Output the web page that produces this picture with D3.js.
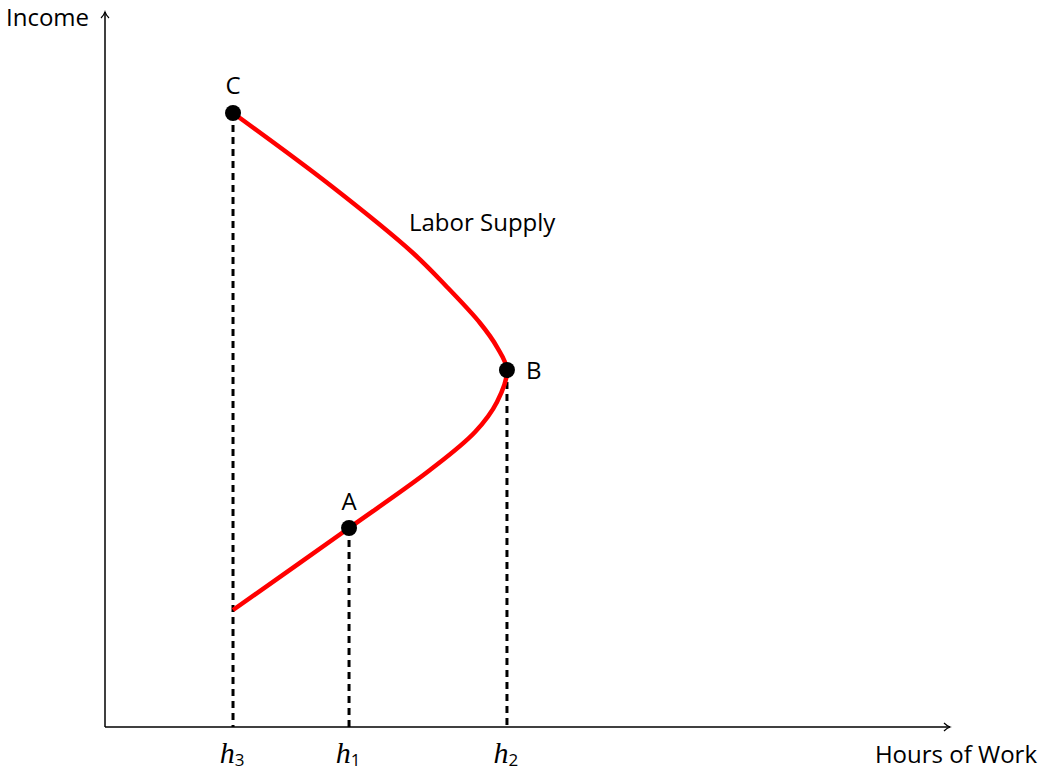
<!DOCTYPE html>
<html>
<head>
<meta charset="utf-8">
<script src="https://cdn.jsdelivr.net/npm/d3@7"></script>
<style>
  body { margin: 0; background: #fff; }
  text { font-family: "Open Sans", "DejaVu Sans", sans-serif; }
</style>
</head>
<body>
<svg id="chart"></svg>
<script>
// supply curve, from the low end up to C (hours, income)
const curveHours  = [1.515, 2.888, 3.846, 4.379, 4.639, 4.757, 4.639, 4.438, 4.047, 3.645, 2.663, 1.515];
const curveIncome = [1.391, 2.366, 3.055, 3.507, 3.864, 4.244, 4.517, 4.803, 5.231, 5.635, 6.443, 7.299];

const pointNames  = ["A", "B", "C"];
const pointHours  = [2.888, 4.757, 1.515];
const pointIncome = [2.366, 4.244, 7.299];

const tickNames = ["3", "1", "2"];
const tickHours = [1.515, 2.888, 4.757];

const W = 1041, H = 772;
const svg = d3.select("#chart").attr("width", W).attr("height", H);

const x = d3.scaleLinear().domain([0, 10]).range([105, 950]);
const y = d3.scaleLinear().domain([0, 8.5]).range([727, 12]);

// axes
svg.append("line")
  .attr("x1", x(0)).attr("x2", x(10))
  .attr("y1", y(0)).attr("y2", y(0))
  .attr("stroke", "#000").attr("stroke-width", 1.5);
svg.append("line")
  .attr("x1", x(0)).attr("x2", x(0))
  .attr("y1", y(0)).attr("y2", y(8.5))
  .attr("stroke", "#000").attr("stroke-width", 1.5);

// arrow heads
svg.append("path")
  .attr("d", `M${x(10) - 6},${y(0) - 4} Q${x(10) - 3},${y(0) - 1} ${x(10)},${y(0)} Q${x(10) - 3},${y(0) + 1} ${x(10) - 6},${y(0) + 4}`)
  .attr("fill", "none").attr("stroke", "#000").attr("stroke-width", 1.2);
svg.append("path")
  .attr("d", `M${x(0) - 4},${y(8.5) + 6} Q${x(0) - 1},${y(8.5) + 3} ${x(0)},${y(8.5)} Q${x(0) + 1},${y(8.5) + 3} ${x(0) + 4},${y(8.5) + 6}`)
  .attr("fill", "none").attr("stroke", "#000").attr("stroke-width", 1.2);

svg.append("text")
  .attr("x", 6).attr("y", 26)
  .attr("font-size", 24)
  .text("Income");
svg.append("text")
  .attr("x", 1037).attr("y", 763)
  .attr("text-anchor", "end")
  .attr("font-size", 24)
  .text("Hours of Work");

// dashed drop lines
svg.selectAll(".drop")
  .data(pointNames)
  .enter()
  .append("line")
  .attr("x1", (d, i) => x(pointHours[i]))
  .attr("x2", (d, i) => x(pointHours[i]))
  .attr("y1", (d, i) => y(pointIncome[i]))
  .attr("y2", y(0))
  .attr("stroke", "#000")
  .attr("stroke-width", 3)
  .attr("stroke-dasharray", "7,5");

// labor supply curve
const line = d3.line()
  .x((d, i) => x(curveHours[i]))
  .y((d, i) => y(curveIncome[i]))
  .curve(d3.curveCatmullRom.alpha(0.5));

svg.append("path")
  .datum(curveHours)
  .attr("d", line)
  .attr("fill", "none")
  .attr("stroke", "#ff0000")
  .attr("stroke-width", 4.5);

svg.append("text")
  .attr("x", 409).attr("y", 231)
  .attr("font-size", 24)
  .text("Labor Supply");

// points
svg.selectAll(".pt")
  .data(pointNames)
  .enter()
  .append("circle")
  .attr("cx", (d, i) => x(pointHours[i]))
  .attr("cy", (d, i) => y(pointIncome[i]))
  .attr("r", 8)
  .attr("fill", "#000");

const labelDx = { A: 0, B: 19, C: 0 };
const labelDy = { A: -18, B: 9, C: -19 };
svg.selectAll(".pl")
  .data(pointNames)
  .enter()
  .append("text")
  .attr("x", (d, i) => x(pointHours[i]) + labelDx[d])
  .attr("y", (d, i) => y(pointIncome[i]) + labelDy[d])
  .attr("text-anchor", d => d === "B" ? "start" : "middle")
  .attr("font-size", 24)
  .text(d => d);

// h tick labels
const tl = svg.selectAll(".tl")
  .data(tickNames)
  .enter()
  .append("text")
  .attr("x", (d, i) => x(tickHours[i]) - 1)
  .attr("y", 763)
  .attr("text-anchor", "middle");
tl.append("tspan")
  .attr("font-family", "'Liberation Serif', serif")
  .attr("font-style", "italic")
  .attr("font-size", 30)
  .text("h");
tl.append("tspan")
  .attr("font-size", 17)
  .attr("dy", 3)
  .text(d => d);
</script>
</body>
</html>
